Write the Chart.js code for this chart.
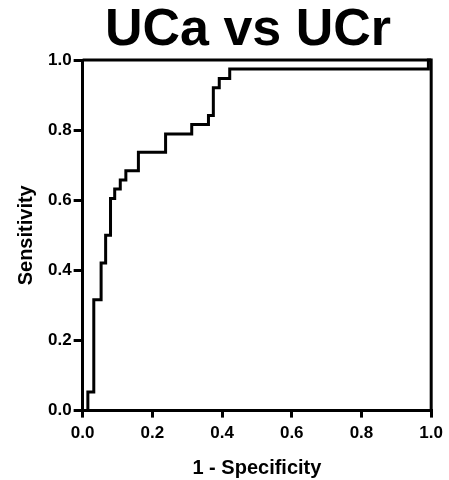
<!DOCTYPE html>
<html>
<head>
<meta charset="utf-8">
<script src="https://cdn.jsdelivr.net/npm/chart.js@4"></script>
<style>
  html, body { margin: 0; padding: 0; background: #fff; }
  #wrap { width: 449px; height: 480px; position: relative; }
  #title {
    position: absolute; left: 0; top: 1px; width: 496px;
    text-align: center;
    font: bold 52px "Liberation Sans", Arial, sans-serif;
    line-height: 52px; color: #000;
  }
</style>
</head>
<body>
<div id="wrap">
  <canvas id="rocChart"></canvas>
  <div id="title">UCa vs UCr</div>
</div>
<script>
// ROC curve points (1 - specificity, sensitivity)
const fpr = [0, 0.015, 0.032, 0.053, 0.066, 0.080, 0.092, 0.108, 0.124, 0.160, 0.238, 0.313, 0.361, 0.375, 0.392, 0.422, 0.992, 1.0];
const tpr = [0, 0.053, 0.316, 0.421, 0.500, 0.605, 0.632, 0.658, 0.684, 0.737, 0.789, 0.816, 0.842, 0.921, 0.947, 0.974, 1.0, 1.0];
const xTicks = [0, 0.2, 0.4, 0.6, 0.8, 1.0];
const yTicks = [0, 0.2, 0.4, 0.6, 0.8, 1.0];

const FONT = '"Liberation Sans", Arial, sans-serif';

// closes the plot box on the top and right sides
const frameBox = {
    id: 'frameBox',
    afterDatasetsDraw(chart) {
        const { ctx, chartArea } = chart;
        ctx.save();
        ctx.strokeStyle = '#000';
        ctx.lineWidth = 3;
        ctx.beginPath();
        ctx.moveTo(chartArea.left, chartArea.top);
        ctx.lineTo(chartArea.right, chartArea.top);
        ctx.lineTo(chartArea.right, chartArea.bottom);
        ctx.stroke();
        ctx.restore();
    }
};

const points = fpr.map((x, i) => ({ x: x, y: tpr[i] }));

new Chart(document.getElementById('rocChart'), {
    type: 'line',
    data: {
        datasets: [{
            label: 'UCa vs UCr',
            data: points,
            stepped: 'before',
            borderColor: '#000',
            borderWidth: 3,
            pointRadius: 0,
            fill: false,
            clip: false
        }]
    },
    options: {
        responsive: true,
        maintainAspectRatio: false,
        animation: false,
        layout: { padding: { left: 14, right: 8, top: 60, bottom: 0 } },
        plugins: {
            legend: { display: false },
            tooltip: { enabled: false },
            title: { display: false }
        },
        scales: {
            x: {
                type: 'linear',
                min: 0,
                max: 1,
                afterBuildTicks: (scale) => { scale.ticks = xTicks.map(v => ({ value: v })); },
                ticks: {
                    color: '#000',
                    font: { family: FONT, size: 17, weight: 'bold' },
                    padding: 6,
                    maxRotation: 0,
                    callback: (v) => Number(v).toFixed(1)
                },
                grid: { drawOnChartArea: false, drawTicks: true, tickLength: 7, lineWidth: 3, color: '#000' },
                border: { display: true, width: 3, color: '#000' },
                title: {
                    display: true,
                    text: '1 - Specificity',
                    color: '#000',
                    font: { family: FONT, size: 20, weight: 'bold' },
                    padding: { top: 6, bottom: 0 }
                }
            },
            y: {
                type: 'linear',
                min: 0,
                max: 1,
                afterBuildTicks: (scale) => { scale.ticks = yTicks.map(v => ({ value: v })); },
                ticks: {
                    color: '#000',
                    font: { family: FONT, size: 17, weight: 'bold' },
                    padding: 2,
                    callback: (v) => Number(v).toFixed(1)
                },
                grid: { drawOnChartArea: false, drawTicks: true, tickLength: 9, lineWidth: 3, color: '#000' },
                border: { display: true, width: 3, color: '#000' },
                title: {
                    display: true,
                    text: 'Sensitivity',
                    color: '#000',
                    font: { family: FONT, size: 20, weight: 'bold' },
                    padding: { top: 0, bottom: 8 }
                }
            }
        }
    },
    plugins: [frameBox]
});
</script>
</body>
</html>
